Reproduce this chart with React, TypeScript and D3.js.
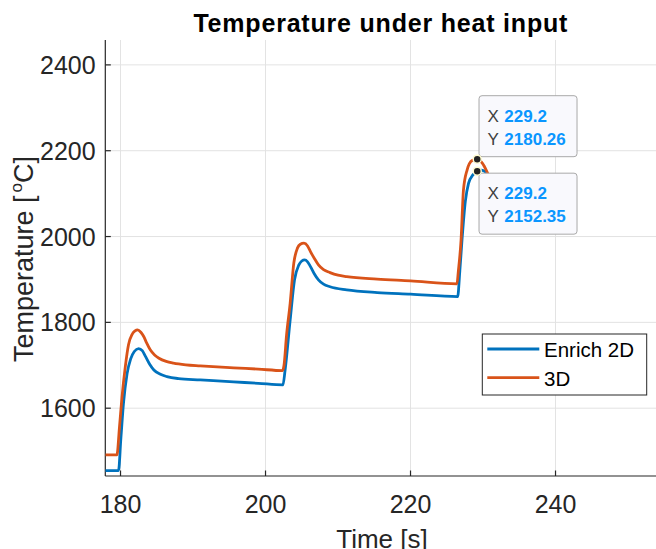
import React from "react";
import * as d3 from "d3";

// Enrich 2D model: time [s] and temperature [°C]
const enrichTime = [
  177.9, 179.72, 180.05, 180.4, 180.9, 181.4, 181.9, 182.5, 183.0, 183.4, 184.0, 184.6, 185.5, 186.4, 188.0,
  191.0, 195.6, 199.0, 202.4, 202.7, 203.4, 204.0, 204.6, 205.0, 205.4, 205.8, 206.2, 206.7, 207.3, 208.0,
  208.9, 211.2, 215.4, 220.0, 226.5, 226.8, 227.1, 227.56, 228.0, 228.6, 229.2, 229.8, 230.5, 231.2,
];
const enrichTemp = [
  1454.6, 1454.6, 1530, 1610, 1680, 1715, 1732, 1739, 1734, 1722, 1703, 1689, 1679, 1673.6, 1669,
  1666, 1661.3, 1658, 1654.3, 1689, 1806, 1899, 1934, 1943, 1945.6, 1941, 1930, 1914, 1899, 1889,
  1883, 1875.7, 1869.4, 1865.7, 1860, 1920, 1992, 2082, 2124, 2143.7, 2152.35, 2155, 2148, 2130,
];

// Full 3D model
const fullTime = [
  177.9, 179.5, 179.85, 180.2, 180.66, 181.1, 181.6, 182.0, 182.36, 182.8, 183.2, 183.6, 184.1, 184.7, 185.3,
  186.3, 187.3, 189.0, 191.0, 195.6, 199.0, 202.35, 202.55, 202.9, 203.4, 203.9, 204.4, 204.8, 205.3, 205.8,
  206.2, 206.7, 207.3, 208.0, 208.9, 210.0, 211.2, 215.4, 220.0, 226.4, 226.6, 226.97, 227.3, 227.8, 228.5,
  229.2, 229.9, 230.55, 231.2,
];
const fullTemp = [
  1491, 1491, 1555, 1625, 1697, 1748, 1772, 1780, 1782.5, 1777, 1767, 1752, 1736, 1724, 1716.5,
  1709, 1705, 1701, 1698.6, 1694, 1691, 1687.6, 1700, 1770, 1844.7, 1938, 1973, 1982, 1984.5, 1978,
  1965, 1950, 1934, 1923, 1916, 1910, 1906.7, 1901, 1896.7, 1889.7, 1920, 1992, 2108, 2155, 2177,
  2180.26, 2171, 2151, 2125,
];

const seriesNames = ["Enrich 2D", "3D"];
const seriesColors = ["#0072BD", "#D95319"];

const xTicks = [180, 200, 220, 240];
const yTicks = [1600, 1800, 2000, 2200, 2400];
const xDomain = [177.9, 253.9];
const yDomain = [1442, 2458];

// Data tips: full 3D peak (above) and Enrich 2D peak (below)
const tipX = [229.2, 229.2];
const tipY = [2180.26, 2152.35];
const tipPlacement = ["above", "below"];

const W = 656;
const H = 549;
const font = "'Liberation Sans', Arial, Helvetica, sans-serif";
const ink = "#262626";

export default function App() {
  const x = d3.scaleLinear().domain(xDomain).range([105.3, 656.3]);
  const y = d3.scaleLinear().domain(yDomain).range([476, 40]);
  const [x0, x1] = x.range();
  const [yb, yt] = y.range();

  const line = d3
    .line<[number, number]>()
    .x((d) => x(d[0]))
    .y((d) => y(d[1]))
    .curve(d3.curveMonotoneX);

  const series = [
    d3.zip(enrichTime, enrichTemp) as [number, number][],
    d3.zip(fullTime, fullTemp) as [number, number][],
  ];

  const tipW = 98;
  const tipH = 61;

  return (
    <svg
      width={W}
      height={H}
      style={{ position: "absolute", left: 0, top: 0, background: "#fff" }}
      fontFamily={font}
    >
      <defs>
        <clipPath id="plotArea">
          <rect x={x0} y={yt} width={x1 - x0} height={yb - yt} />
        </clipPath>
      </defs>

      {/* grid */}
      <g stroke="#e3e3e3" strokeWidth={1}>
        {xTicks.map((t) => (
          <line key={"gx" + t} x1={x(t)} x2={x(t)} y1={yt} y2={yb} />
        ))}
        {yTicks.map((t) => (
          <line key={"gy" + t} x1={x0} x2={x1} y1={y(t)} y2={y(t)} />
        ))}
      </g>

      {/* axes */}
      <g stroke={ink} strokeWidth={1.2}>
        <line x1={x0} x2={x0} y1={yt} y2={yb} />
        <line x1={x0} x2={x1} y1={yb} y2={yb} />
        {xTicks.map((t) => (
          <line key={"tx" + t} x1={x(t)} x2={x(t)} y1={yb} y2={yb - 5.5} />
        ))}
        {yTicks.map((t) => (
          <line key={"ty" + t} x1={x0} x2={x0 + 5.5} y1={y(t)} y2={y(t)} />
        ))}
      </g>

      <g fill={ink} fontSize={25}>
        {xTicks.map((t) => (
          <text key={"lx" + t} x={x(t)} y={513} textAnchor="middle">
            {t}
          </text>
        ))}
        {yTicks.map((t) => (
          <text key={"ly" + t} x={95.7} y={y(t) + 9} textAnchor="end">
            {t}
          </text>
        ))}
      </g>

      {/* curves */}
      <g clipPath="url(#plotArea)" fill="none" strokeWidth={2.8} strokeLinejoin="round">
        {series.map((s, i) => (
          <path key={seriesNames[i]} d={line(s) ?? ""} stroke={seriesColors[i]} />
        ))}
      </g>

      {/* data tips */}
      {tipX.map((tx, i) => {
        const px = x(tx);
        const py = y(tipY[i]);
        const bx = px + 1.8;
        const by = tipPlacement[i] === "above" ? py - 2.5 - tipH : py + 2;
        return (
          <g key={"tip" + i}>
            <rect x={bx} y={by} width={tipW} height={tipH} rx={3} fill="#f9f9fd" stroke="#a9a9a9" strokeWidth={1} />
            <text x={bx + 8.5} y={by + 26.3} fontSize={17} fill="#404040">
              X{" "}
              <tspan fill="#0a96ff" fontWeight="bold" x={bx + 25.3}>
                {tx.toFixed(1)}
              </tspan>
            </text>
            <text x={bx + 8.5} y={by + 49} fontSize={17} fill="#404040">
              Y{" "}
              <tspan fill="#0a96ff" fontWeight="bold" x={bx + 25.3}>
                {tipY[i].toFixed(2)}
              </tspan>
            </text>
          </g>
        );
      })}
      {tipX.map((tx, i) => (
        <circle key={"dot" + i} cx={x(tx)} cy={y(tipY[i])} r={4} fill="#222" stroke="#fffbd0" strokeWidth={1.5} />
      ))}

      {/* legend */}
      <g>
        <rect x={482.3} y={334} width={164.4} height={61} fill="#fff" stroke={ink} strokeWidth={1} />
        {seriesNames.map((n, i) => (
          <g key={"leg" + n}>
            <line x1={487.3} x2={539.3} y1={349 + i * 28.7} y2={349 + i * 28.7} stroke={seriesColors[i]} strokeWidth={2.8} />
            <text x={544} y={357.3 + i * 28.4} fontSize={20.5} fill="#000">
              {n}
            </text>
          </g>
        ))}
      </g>

      {/* title and axis labels */}
      <text x={(x0 + x1) / 2} y={31.7} textAnchor="middle" fontSize={25} fontWeight="bold" letterSpacing={0.8} fill="#000">
        Temperature under heat input
      </text>
      <text x={382} y={547.5} textAnchor="middle" fontSize={26} fill={ink}>
        Time [s]
      </text>
      <text transform={`translate(33,259) rotate(-90)`} textAnchor="middle" fontSize={27} fill={ink}>
        Temperature [
        <tspan fontSize={17} dx={3} dy={-11}>
          o
        </tspan>
        <tspan dy={11}>C]</tspan>
      </text>
    </svg>
  );
}
